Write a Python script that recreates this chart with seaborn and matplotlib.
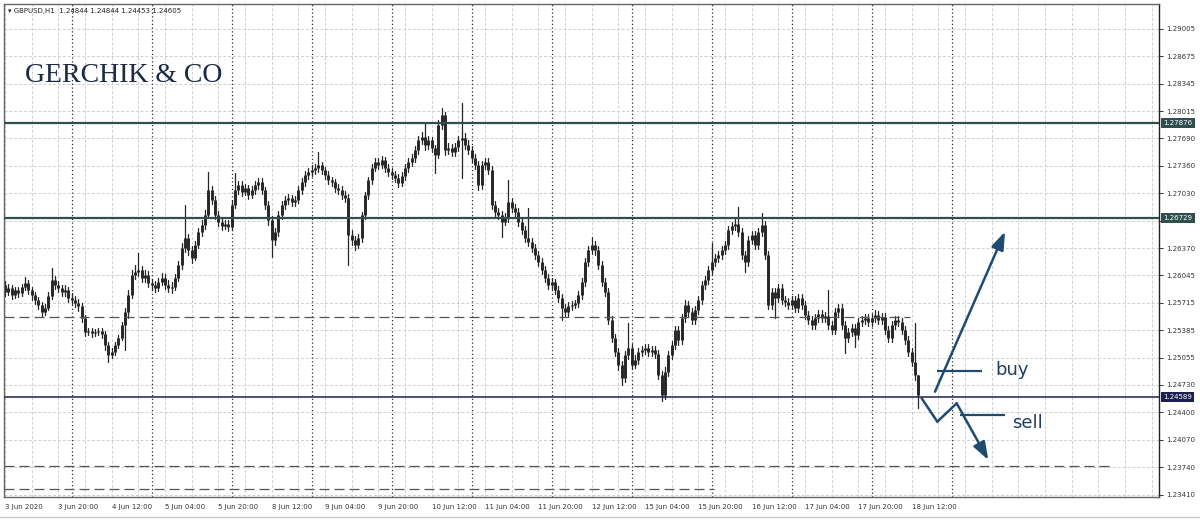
import numpy as np
import pandas as pd
import seaborn as sns
import matplotlib.pyplot as plt
from matplotlib.transforms import blended_transform_factory

# GBPUSD H1 candles, 3 Jun 2020 04:00 -> 18 Jun 2020 14:00 (275 bars)
first_open = 1.2593
closes = [
    1.2585, 1.2589, 1.2581, 1.2587, 1.2583, 1.2591, 1.2595, 1.2587, 1.2581, 1.2575, 1.2569, 1.2561, 1.2565, 1.2580, 1.2599, 1.2593, 1.2589, 1.2585, 1.2587, 1.2577,
    1.2575, 1.2571, 1.2568, 1.2553, 1.2537, 1.2538, 1.2535, 1.2537, 1.2538, 1.2534, 1.2521, 1.2509, 1.2513, 1.2521, 1.2529, 1.2545, 1.2561, 1.2581, 1.2605, 1.2609,
    1.2611, 1.2601, 1.2605, 1.2595, 1.2593, 1.2589, 1.2597, 1.2601, 1.2593, 1.2589, 1.2591, 1.2601, 1.2617, 1.2637, 1.2649, 1.2635, 1.2625, 1.2641, 1.2657, 1.2665,
    1.2677, 1.2707, 1.2695, 1.2677, 1.2669, 1.2664, 1.2666, 1.2663, 1.2689, 1.2707, 1.2713, 1.2705, 1.2709, 1.2701, 1.2707, 1.2713, 1.2717, 1.2707, 1.2689, 1.2671,
    1.2647, 1.2657, 1.2677, 1.2689, 1.2695, 1.2697, 1.2693, 1.2695, 1.2707, 1.2717, 1.2725, 1.2729, 1.2731, 1.2733, 1.2737, 1.2731, 1.2725, 1.2719, 1.2717, 1.2709,
    1.2707, 1.2701, 1.2697, 1.2653, 1.2647, 1.2641, 1.2649, 1.2677, 1.2701, 1.2719, 1.2733, 1.2741, 1.2737, 1.2743, 1.2733, 1.2729, 1.2725, 1.2721, 1.2715, 1.2724,
    1.2733, 1.2741, 1.2745, 1.2755, 1.2767, 1.2771, 1.2761, 1.2767, 1.2757, 1.2749, 1.2785, 1.2797, 1.2755, 1.2757, 1.2753, 1.2759, 1.2767, 1.2769, 1.2761, 1.2755,
    1.2745, 1.2737, 1.2713, 1.2737, 1.2741, 1.2731, 1.2689, 1.2681, 1.2677, 1.2669, 1.2673, 1.2693, 1.2685, 1.2681, 1.2669, 1.2659, 1.2649, 1.2645, 1.2637, 1.2629,
    1.2621, 1.2611, 1.2601, 1.2593, 1.2597, 1.2587, 1.2577, 1.2565, 1.2561, 1.2568, 1.2569, 1.2571, 1.2581, 1.2597, 1.2621, 1.2635, 1.2641, 1.2635, 1.2617, 1.2597,
    1.2585, 1.2551, 1.2529, 1.2513, 1.2497, 1.2481, 1.2509, 1.2517, 1.2497, 1.2503, 1.2513, 1.2515, 1.2517, 1.2513, 1.2515, 1.2510, 1.2485, 1.2461, 1.2489, 1.2509,
    1.2521, 1.2539, 1.2527, 1.2553, 1.2569, 1.2561, 1.2551, 1.2563, 1.2575, 1.2593, 1.2599, 1.2611, 1.2621, 1.2625, 1.2629, 1.2635, 1.2641, 1.2659, 1.2664, 1.2666,
    1.2657, 1.2629, 1.2621, 1.2647, 1.2653, 1.2641, 1.2657, 1.2665, 1.2629, 1.2569, 1.2585, 1.2577, 1.2589, 1.2575, 1.2573, 1.2569, 1.2575, 1.2565, 1.2577, 1.2569,
    1.2557, 1.2551, 1.2545, 1.2553, 1.2558, 1.2553, 1.2556, 1.2545, 1.2539, 1.2561, 1.2565, 1.2545, 1.2529, 1.2537, 1.2541, 1.2533, 1.2549, 1.2551, 1.2553, 1.2549,
    1.2553, 1.2557, 1.2551, 1.2555, 1.2539, 1.2529, 1.2545, 1.2551, 1.2549, 1.2539, 1.2527, 1.2513, 1.2501, 1.24844, 1.24605,
]
highs = [
    1.2598, 1.2594, 1.2593, 1.2591, 1.2591, 1.2594, 1.2603, 1.2599, 1.2591, 1.2585, 1.2579, 1.2573, 1.2570, 1.2585, 1.2613, 1.2604, 1.2598, 1.2593, 1.2593, 1.2591,
    1.2583, 1.2580, 1.2576, 1.2571, 1.2557, 1.2541, 1.2541, 1.2540, 1.2541, 1.2541, 1.2538, 1.2525, 1.2517, 1.2525, 1.2533, 1.2549, 1.2565, 1.2587, 1.2611, 1.2617,
    1.2631, 1.2616, 1.2611, 1.2610, 1.2600, 1.2598, 1.2601, 1.2607, 1.2606, 1.2599, 1.2597, 1.2606, 1.2622, 1.2643, 1.2689, 1.2654, 1.2640, 1.2646, 1.2661, 1.2671,
    1.2683, 1.2729, 1.2712, 1.2700, 1.2682, 1.2673, 1.2671, 1.2671, 1.2695, 1.2727, 1.2718, 1.2718, 1.2714, 1.2713, 1.2712, 1.2718, 1.2721, 1.2721, 1.2711, 1.2694,
    1.2676, 1.2661, 1.2682, 1.2694, 1.2700, 1.2702, 1.2701, 1.2700, 1.2712, 1.2721, 1.2730, 1.2733, 1.2737, 1.2738, 1.2753, 1.2741, 1.2735, 1.2730, 1.2723, 1.2720,
    1.2714, 1.2712, 1.2706, 1.2702, 1.2659, 1.2652, 1.2654, 1.2681, 1.2705, 1.2723, 1.2738, 1.2745, 1.2745, 1.2748, 1.2747, 1.2738, 1.2733, 1.2730, 1.2726, 1.2729,
    1.2738, 1.2745, 1.2750, 1.2760, 1.2772, 1.2777, 1.2787, 1.2772, 1.2771, 1.2761, 1.2791, 1.2805, 1.2801, 1.2763, 1.2762, 1.2763, 1.2772, 1.2811, 1.2775, 1.2767,
    1.2760, 1.2750, 1.2742, 1.2742, 1.2745, 1.2745, 1.2736, 1.2694, 1.2685, 1.2682, 1.2679, 1.2719, 1.2697, 1.2690, 1.2685, 1.2673, 1.2664, 1.2685, 1.2649, 1.2642,
    1.2634, 1.2625, 1.2616, 1.2606, 1.2601, 1.2600, 1.2592, 1.2582, 1.2570, 1.2573, 1.2574, 1.2575, 1.2586, 1.2601, 1.2625, 1.2640, 1.2651, 1.2646, 1.2640, 1.2622,
    1.2601, 1.2589, 1.2556, 1.2534, 1.2517, 1.2502, 1.2514, 1.2547, 1.2522, 1.2509, 1.2517, 1.2520, 1.2522, 1.2522, 1.2520, 1.2520, 1.2515, 1.2490, 1.2495, 1.2514,
    1.2526, 1.2544, 1.2544, 1.2558, 1.2575, 1.2574, 1.2565, 1.2568, 1.2580, 1.2598, 1.2604, 1.2616, 1.2643, 1.2630, 1.2634, 1.2640, 1.2646, 1.2664, 1.2669, 1.2672,
    1.2687, 1.2661, 1.2634, 1.2652, 1.2658, 1.2658, 1.2661, 1.2679, 1.2670, 1.2634, 1.2589, 1.2589, 1.2594, 1.2594, 1.2580, 1.2577, 1.2580, 1.2580, 1.2582, 1.2582,
    1.2574, 1.2562, 1.2556, 1.2558, 1.2563, 1.2563, 1.2561, 1.2587, 1.2550, 1.2565, 1.2570, 1.2570, 1.2550, 1.2541, 1.2546, 1.2546, 1.2553, 1.2556, 1.2558, 1.2558,
    1.2558, 1.2563, 1.2562, 1.2559, 1.2559, 1.2544, 1.2550, 1.2556, 1.2556, 1.2553, 1.2544, 1.2532, 1.2517, 1.2547, 1.24844,
]
lows = [
    1.2580, 1.2581, 1.2576, 1.2577, 1.2579, 1.2580, 1.2587, 1.2582, 1.2575, 1.2570, 1.2564, 1.2555, 1.2557, 1.2563, 1.2576, 1.2588, 1.2585, 1.2580, 1.2580, 1.2573,
    1.2570, 1.2567, 1.2562, 1.2549, 1.2532, 1.2533, 1.2531, 1.2532, 1.2533, 1.2529, 1.2515, 1.2501, 1.2505, 1.2509, 1.2517, 1.2527, 1.2515, 1.2553, 1.2577, 1.2600,
    1.2604, 1.2597, 1.2597, 1.2591, 1.2587, 1.2585, 1.2586, 1.2593, 1.2588, 1.2585, 1.2583, 1.2587, 1.2598, 1.2612, 1.2633, 1.2629, 1.2619, 1.2623, 1.2637, 1.2652,
    1.2660, 1.2673, 1.2690, 1.2672, 1.2664, 1.2659, 1.2660, 1.2658, 1.2659, 1.2685, 1.2702, 1.2700, 1.2701, 1.2696, 1.2697, 1.2702, 1.2708, 1.2702, 1.2684, 1.2665,
    1.2627, 1.2641, 1.2652, 1.2672, 1.2684, 1.2690, 1.2688, 1.2688, 1.2691, 1.2702, 1.2712, 1.2720, 1.2724, 1.2726, 1.2729, 1.2726, 1.2720, 1.2714, 1.2712, 1.2705,
    1.2702, 1.2696, 1.2693, 1.2617, 1.2641, 1.2635, 1.2637, 1.2645, 1.2672, 1.2696, 1.2714, 1.2730, 1.2732, 1.2733, 1.2729, 1.2724, 1.2720, 1.2717, 1.2711, 1.2712,
    1.2719, 1.2729, 1.2736, 1.2741, 1.2750, 1.2762, 1.2755, 1.2756, 1.2753, 1.2727, 1.2745, 1.2780, 1.2749, 1.2750, 1.2748, 1.2748, 1.2754, 1.2721, 1.2756, 1.2750,
    1.2741, 1.2732, 1.2707, 1.2708, 1.2732, 1.2726, 1.2684, 1.2676, 1.2672, 1.2651, 1.2665, 1.2669, 1.2681, 1.2676, 1.2664, 1.2654, 1.2645, 1.2640, 1.2633, 1.2624,
    1.2616, 1.2606, 1.2597, 1.2588, 1.2588, 1.2582, 1.2573, 1.2551, 1.2556, 1.2556, 1.2563, 1.2565, 1.2567, 1.2576, 1.2592, 1.2616, 1.2630, 1.2629, 1.2612, 1.2592,
    1.2580, 1.2546, 1.2525, 1.2508, 1.2491, 1.2473, 1.2477, 1.2504, 1.2492, 1.2493, 1.2498, 1.2508, 1.2510, 1.2508, 1.2508, 1.2505, 1.2480, 1.2454, 1.2456, 1.2484,
    1.2504, 1.2516, 1.2521, 1.2522, 1.2549, 1.2556, 1.2546, 1.2546, 1.2558, 1.2570, 1.2588, 1.2594, 1.2606, 1.2616, 1.2621, 1.2624, 1.2630, 1.2636, 1.2654, 1.2659,
    1.2652, 1.2624, 1.2609, 1.2616, 1.2642, 1.2636, 1.2636, 1.2652, 1.2624, 1.2564, 1.2564, 1.2553, 1.2573, 1.2570, 1.2568, 1.2564, 1.2564, 1.2561, 1.2561, 1.2564,
    1.2552, 1.2546, 1.2540, 1.2540, 1.2549, 1.2549, 1.2549, 1.2540, 1.2534, 1.2534, 1.2556, 1.2540, 1.2511, 1.2525, 1.2532, 1.2519, 1.2528, 1.2544, 1.2546, 1.2544,
    1.2544, 1.2549, 1.2546, 1.2546, 1.2534, 1.2525, 1.2525, 1.2540, 1.2544, 1.2534, 1.2522, 1.2508, 1.2496, 1.2479, 1.24453,
]

xtick_labels = ['3 Jun 2020', '3 Jun 20:00', '4 Jun 12:00', '5 Jun 04:00', '5 Jun 20:00',
                '8 Jun 12:00', '9 Jun 04:00', '9 Jun 20:00', '10 Jun 12:00', '11 Jun 04:00',
                '11 Jun 20:00', '12 Jun 12:00', '15 Jun 04:00', '15 Jun 20:00', '16 Jun 12:00',
                '17 Jun 04:00', '17 Jun 20:00', '18 Jun 12:00']
price_ticks = [1.29005, 1.28675, 1.28345, 1.28015, 1.27690, 1.27360, 1.27030, 1.26700, 1.26370,
               1.26045, 1.25715, 1.25385, 1.25055, 1.24730, 1.24400, 1.24070, 1.23740, 1.23410]
hidden_tick = 1.26700  # sits under the 1.26729 price box

# horizontal levels drawn by the trader
levels = [1.27876, 1.26729, 1.24589]
level_colors = ['#2f4f4f', '#2f4f4f', '#1c2050']
level_widths = [1.6, 1.6, 1.1]
dashed_levels = [1.2554, 1.2376, 1.2348]
dashed_end_bar = [271.5, 331.5, 212.7]

# scenario sketch (bar index, price)
buy_arrow = [(279.0, 1.2465), (300.0, 1.2657)]
buy_mark = [(279.6, 293.1), 1.2490]
sell_path = [(275.0, 279.7, 285.5), (1.2457, 1.2429, 1.2451)]
sell_arrow = [(285.5, 1.2451), (295.0, 1.2383)]
sell_mark = [(286.5, 300.0), 1.2437]

n = len(closes)
bars = np.arange(n)
opens = np.r_[first_open, closes[:-1]]

wicks = pd.DataFrame({'bar': np.repeat(bars, 2),
                      'price': np.column_stack([lows, highs]).ravel()})
bodies = pd.DataFrame({'bar': np.repeat(bars, 2),
                       'price': np.column_stack([opens, closes]).ravel()})

sns.set_style('white')
plt.rcParams['font.family'] = ['DejaVu Sans']

fig = plt.figure(figsize=(12, 5.2), dpi=100)
ax = fig.add_axes([4 / 1200, 23 / 520, 1155 / 1200, 493 / 520])

# grid + day separators
grid_kw = dict(color='#cfcfcf', lw=0.7, ls=(0, (3, 2)), zorder=0)
for b in range(0, 347, 8):
    ax.axvline(b, **grid_kw)
for p in price_ticks:
    ax.axhline(p, **grid_kw)
for b in range(20, 285, 24):
    ax.axvline(b, color='#2a2a2a', lw=0.9, ls=(0, (1, 2)), zorder=0.5)

# candles
sns.lineplot(data=wicks, x='bar', y='price', units='bar', estimator=None,
             color='#262626', lw=0.9, ax=ax, legend=False)
sns.lineplot(data=bodies, x='bar', y='price', units='bar', estimator=None,
             color='#262626', lw=2.1, solid_capstyle='butt', ax=ax, legend=False)

# levels
for lv, c, w in zip(levels, level_colors, level_widths):
    ax.axhline(lv, color=c, lw=w, zorder=3)
for lv, end in zip(dashed_levels, dashed_end_bar):
    ax.hlines(lv, -0.3, end, color='#555555', lw=0.9, ls=(0, (8, 4)), zorder=2)

# price boxes on the right axis
trans = blended_transform_factory(ax.transAxes, ax.transData)
for lv, c in zip(levels, level_colors):
    ax.text(1 + 4.5 / 1155, lv, f'{lv:.5f}', transform=trans, fontsize=5, color='white',
            ha='left', va='center', zorder=5, clip_on=False,
            bbox=dict(boxstyle='square,pad=0.3', fc=c, ec='none'))

# buy / sell scenario
arrow_c = '#1f4b73'
ax.annotate('', xy=buy_arrow[1], xytext=buy_arrow[0],
            arrowprops=dict(arrowstyle='-|>,head_length=0.9,head_width=0.32', lw=1.8,
                            color=arrow_c, mutation_scale=12, shrinkA=0, shrinkB=0), zorder=6)
ax.hlines(buy_mark[1], buy_mark[0][0], buy_mark[0][1], color=arrow_c, lw=1.6, zorder=6)
ax.text(297, 1.2491, 'buy', fontsize=13, color='#1f3f5f', ha='left', va='center')

ax.plot(sell_path[0], sell_path[1], color=arrow_c, lw=1.8, solid_joinstyle='miter', zorder=6)
ax.annotate('', xy=sell_arrow[1], xytext=sell_arrow[0],
            arrowprops=dict(arrowstyle='-|>,head_length=0.9,head_width=0.32', lw=1.8,
                            color=arrow_c, mutation_scale=12, shrinkA=0, shrinkB=0), zorder=6)
ax.hlines(sell_mark[1], sell_mark[0][0], sell_mark[0][1], color=arrow_c, lw=1.6, zorder=6)
ax.text(302, 1.2427, 'sell', fontsize=13, color='#1f3f5f', ha='left', va='center')

# axes
ax.set_xlim(-0.3, 346.2)
ax.set_ylim(1.23386, 1.29302)
ax.set_xticks(range(0, n, 16))
ax.set_xticklabels(xtick_labels, ha='left')
ax.yaxis.tick_right()
ax.set_yticks(price_ticks)
ax.set_yticklabels(['' if p == hidden_tick else f'{p:.5f}' for p in price_ticks])
ax.tick_params(axis='both', labelsize=5, length=3, width=0.7, color='#333333',
               labelcolor='#333333', pad=2)
ax.set_xlabel('')
ax.set_ylabel('')
for side, sp in ax.spines.items():
    sp.set_color('#666666' if side != 'right' else '#222222')
    sp.set_linewidth(1.0)

fig.text(8 / 1200, 1 - 11 / 520, '\u25be GBPUSD,H1  1.24844 1.24844 1.24453 1.24605',
         fontsize=5, color='#222222', va='center')
fig.text(25 / 1200, 1 - 82 / 520, 'GERCHIK & CO', fontsize=20,
         family=['Liberation Serif', 'DejaVu Serif'], color='#1c2a44', va='baseline')
fig.add_artist(plt.Line2D([0, 1], [3 / 520, 3 / 520], color='#c8c8c8', lw=1))

fig.savefig('out.png', dpi=100)
